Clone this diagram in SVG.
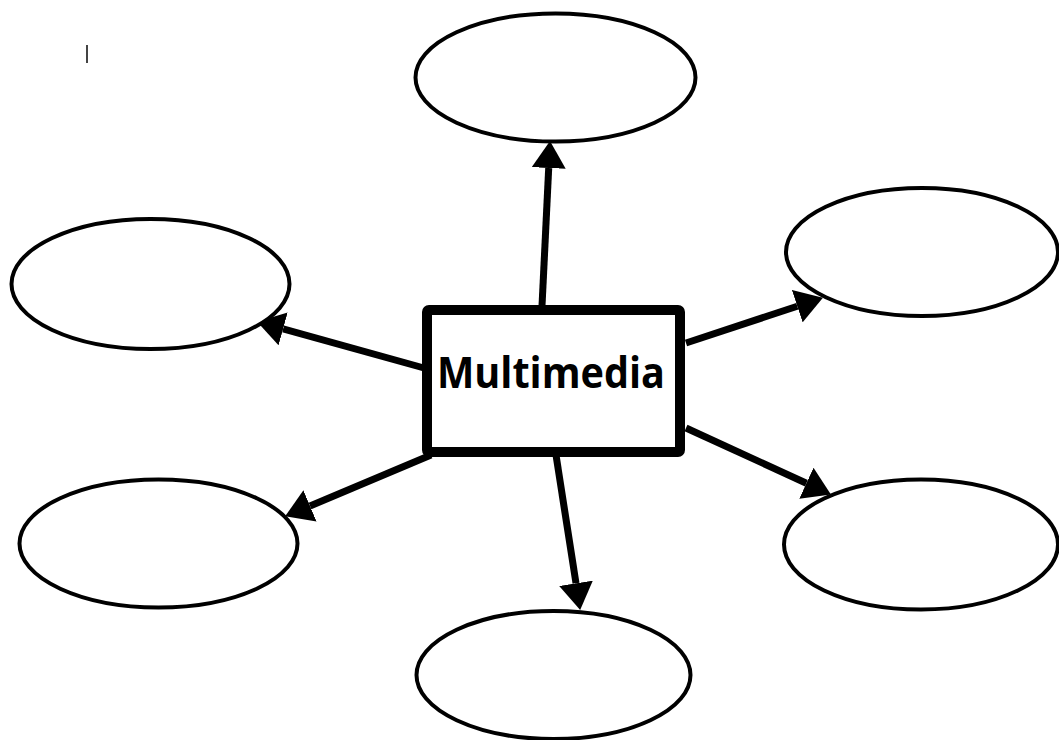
<svg xmlns="http://www.w3.org/2000/svg" width="1059" height="740" viewBox="0 0 1059 740">
<style>
.bubble{fill:#fff;stroke:#000;stroke-width:4}
.conn{stroke:#000;stroke-width:7;fill:none}
.label{font-family:"Open Sans","Liberation Sans",sans-serif;font-weight:bold;font-size:43px;fill:#000}
</style>
<defs>
<marker id="ah" markerUnits="userSpaceOnUse" markerWidth="27" markerHeight="34" refX="0" refY="17" orient="auto" viewBox="0 0 27 34">
<path d="M0,0 L27,17 L0,34 Z" fill="#000"/>
</marker>
</defs>
<rect width="1059" height="740" fill="#fff"/>
<line x1="87" y1="45" x2="87" y2="63" stroke="#444" stroke-width="2"/>
<g id="connectors">
<line class="conn" x1="542" y1="306" x2="548.7" y2="168" marker-end="url(#ah)"/>
<line class="conn" x1="424" y1="368" x2="283.1" y2="328.9" marker-end="url(#ah)"/>
<line class="conn" x1="686" y1="343" x2="797.3" y2="306.2" marker-end="url(#ah)"/>
<line class="conn" x1="686" y1="428" x2="806.4" y2="483.2" marker-end="url(#ah)"/>
<line class="conn" x1="431" y1="455" x2="310" y2="505.9" marker-end="url(#ah)"/>
<line class="conn" x1="556" y1="455" x2="576" y2="583.3" marker-end="url(#ah)"/>
</g>
<g id="node-top"><ellipse class="bubble" cx="555.5" cy="77.5" rx="140" ry="64"/></g>
<g id="node-right-upper"><ellipse class="bubble" cx="922" cy="252" rx="136" ry="64"/></g>
<g id="node-left-upper"><ellipse class="bubble" cx="150.5" cy="284" rx="139" ry="65"/></g>
<g id="node-left-lower"><ellipse class="bubble" cx="158.5" cy="543.5" rx="139" ry="64"/></g>
<g id="node-right-lower"><ellipse class="bubble" cx="921" cy="544.5" rx="137" ry="65"/></g>
<g id="node-bottom"><ellipse class="bubble" cx="553.5" cy="675" rx="137" ry="64"/></g>
<g id="node-center">
<rect x="427" y="310" width="253" height="142" rx="2" fill="#fff" stroke="#000" stroke-width="10"/>
<text class="label" x="551" y="388" text-anchor="middle" textLength="228" lengthAdjust="spacingAndGlyphs">Multimedia</text>
</g>
</svg>
